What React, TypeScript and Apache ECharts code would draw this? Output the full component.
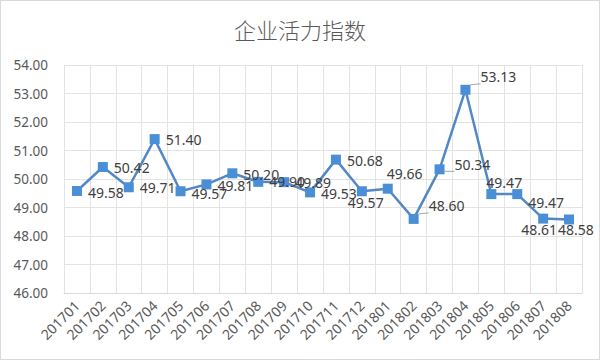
import React, { useEffect, useRef } from "react";
import * as echarts from "echarts";

const title = "企业活力指数";
const categories = [
  "201701", "201702", "201703", "201704", "201705", "201706", "201707",
  "201708", "201709", "201710", "201711", "201712", "201801", "201802",
  "201803", "201804", "201805", "201806", "201807", "201808",
];
const values = [
  49.58, 50.42, 49.71, 51.4, 49.57, 49.81, 50.2, 49.9, 49.89, 49.53,
  50.68, 49.57, 49.66, 48.6, 50.34, 53.13, 49.47, 49.47, 48.61, 48.58,
];
const yMin = 46;
const yMax = 54;
const yInterval = 1;

// label nudges relative to the default "right" position (style only)
const labelNudge: [number, number][] = [
  [0, 2], [0, 0], [0, 0], [0, 0], [0, 2], [0, 1], [0, 1], [0, 0], [0, 0], [0, 1],
  [0, 1], [-25, 11], [-12, -15], [4, -13], [4, -5], [4, -13], [-16, -12], [0, 8], [-33, 11], [-22, 10],
];
const leaderIdx = [13, 14, 15];

export default function App() {
  const ref = useRef<HTMLDivElement>(null);
  useEffect(() => {
    if (!ref.current) return;
    const chart = echarts.init(ref.current, undefined, { renderer: "svg" });
    const font = "'Noto Sans', 'Liberation Sans', sans-serif";
    chart.setOption({
      animation: false,
      backgroundColor: "#ffffff",
      title: {
        text: title,
        left: "center",
        top: 12,
        textStyle: {
          fontFamily: "'Noto Sans CJK SC', sans-serif",
          fontSize: 22,
          fontWeight: 300,
          color: "#595959",
        },
      },
      grid: { left: 63, right: 17, top: 64, bottom: 66 },
      xAxis: {
        type: "category",
        data: categories,
        boundaryGap: true,
        axisLine: { show: true, lineStyle: { color: "#d9d9d9", width: 1 } },
        axisTick: { show: false },
        splitLine: { show: true, lineStyle: { color: "#e3e3e3", width: 1 } },
        axisLabel: {
          rotate: 45,
          interval: 0,
          margin: 10,
          fontFamily: font,
          fontSize: 14,
          color: "#595959",
        },
      },
      yAxis: {
        type: "value",
        min: yMin,
        max: yMax,
        interval: yInterval,
        axisLine: { show: false },
        axisTick: { show: false },
        splitLine: { show: true, lineStyle: { color: "#e3e3e3", width: 1 } },
        axisLabel: {
          margin: 16,
          fontFamily: font,
          fontSize: 13.5,
          color: "#595959",
          formatter: (v: number) => v.toFixed(2),
        },
      },
      series: [
        {
          type: "line",
          data: values.map((v, i) => ({
            value: v,
            label: { offset: labelNudge[i] },
            labelLine: { show: leaderIdx.includes(i) },
          })),
          symbol: "rect",
          symbolSize: 10,
          itemStyle: { color: "#4a8fd6" },
          lineStyle: { color: "#5288c4", width: 2.5 },
          label: {
            show: true,
            position: "right",
            distance: 6,
            fontFamily: font,
            fontSize: 14,
            color: "#404040",
            formatter: (p: any) => Number(p.value).toFixed(2),
          },
          labelLine: { lineStyle: { color: "#a6a6a6", width: 1 } },
        },
      ],
    });
    return () => chart.dispose();
  }, []);
  return (
    <div
      style={{
        position: "fixed",
        left: 0,
        top: 0,
        width: 600,
        height: 360,
        boxSizing: "border-box",
        border: "1px solid #d9d9d9",
        background: "#fff",
      }}
    >
      <div ref={ref} style={{ width: 598, height: 358 }} />
    </div>
  );
}
